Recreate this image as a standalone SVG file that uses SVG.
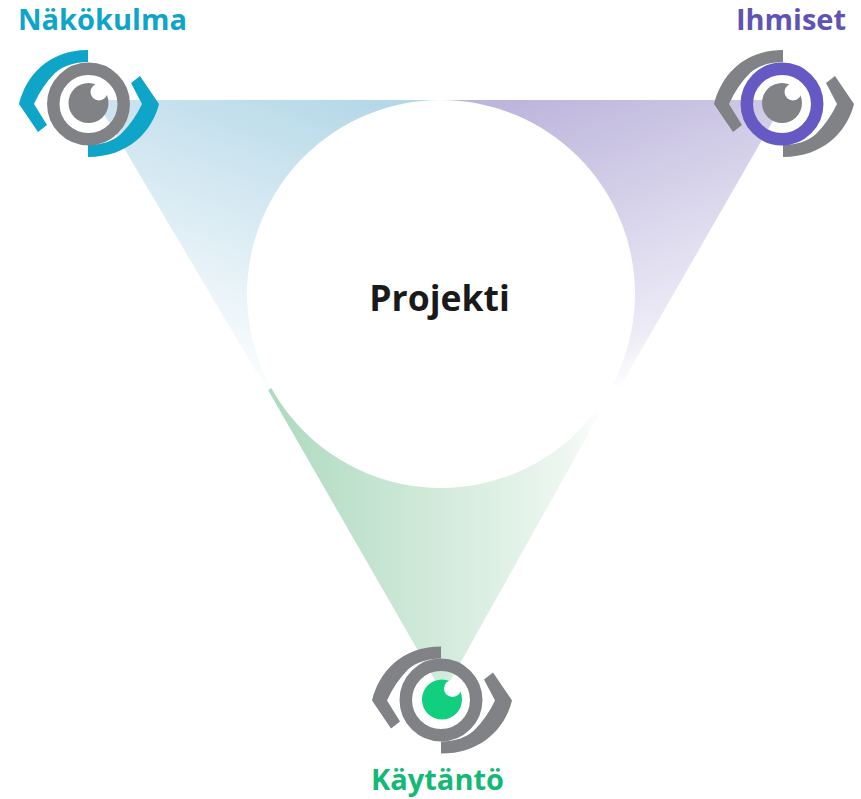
<svg xmlns="http://www.w3.org/2000/svg" width="861" height="799" viewBox="0 0 861 799">
<style>
.t{font-family:"Open Sans","Noto Sans",sans-serif;font-weight:700;text-anchor:middle}
.gr{fill:#808285}
.ring{fill:none;stroke-width:12.500}
.hl{fill:#fff}
</style>
<defs>
<linearGradient id="gb" gradientUnits="userSpaceOnUse" x1="340" y1="90" x2="230" y2="390"><stop offset="0" stop-color="#b5d8e8"/><stop offset="1" stop-color="#ffffff"/></linearGradient>
<linearGradient id="gp" gradientUnits="userSpaceOnUse" x1="540" y1="90" x2="655" y2="395"><stop offset="0" stop-color="#bdb5dc"/><stop offset=".8" stop-color="#ecebf6"/><stop offset=".95" stop-color="#ffffff"/></linearGradient>
<linearGradient id="gg" gradientUnits="userSpaceOnUse" x1="270" y1="500" x2="603" y2="500"><stop offset="0" stop-color="#aedabf"/><stop offset=".9" stop-color="#eef7f1"/><stop offset="1" stop-color="#ffffff"/></linearGradient>
<path id="arcs" d="M0-54V-42C-14-42-25-38-33-31Q-46-18-54 0L-41 21-50 28-69 0C-62-28-40-54 0-54ZM0 53V41C14 41 25 37 33 30Q46 17 54 0L43-21 52-28 71 0C64 28 40 53 0 53Z"/>
</defs>
<g id="beams">
<path d="M95.500 100H441V294L267 390Z" fill="url(#gb)"/>
<path d="M785 100H441V294L620 387Z" fill="url(#gp)"/>
<path d="M443 694 268 390 441 294 600 413Z" fill="url(#gg)"/>
</g>
<g id="projekti">
<circle cx="441" cy="294" r="194" fill="#fff"/>
<text class="t" x="439.500" y="311" font-size="35.500" fill="#1a1a1a">Projekti</text>
</g>
<g id="nakokulma">
<text class="t" x="102.500" y="30" font-size="29" fill="#0fa5c9">Näkökulma</text>
<use href="#arcs" x="88" y="104" fill="#0fa5c9"/>
<circle class="ring" cx="88.500" cy="104" r="35.200" stroke="#808285"/>
<circle cx="88.500" cy="103" r="20" class="gr"/><circle class="hl" cx="99" cy="92" r="8.500"/>
</g>
<g id="ihmiset">
<text class="t" x="791" y="30" font-size="29" fill="#5f54b5">Ihmiset</text>
<use href="#arcs" x="783" y="104" class="gr"/>
<circle class="ring" cx="782" cy="104" r="35.200" stroke="#6659c4"/>
<circle cx="782" cy="103" r="20" class="gr"/><circle class="hl" cx="793" cy="92" r="8.500"/>
</g>
<g id="kaytanto">
<use href="#arcs" x="441" y="700.500" class="gr"/>
<circle class="ring" cx="441" cy="700" r="35.200" stroke="#808285"/>
<circle cx="442" cy="699.500" r="20" fill="#11cf7f"/><circle class="hl" cx="452.500" cy="688.500" r="8.500"/>
<text class="t" x="437.500" y="790" font-size="29" fill="#14b877">Käytäntö</text>
</g>
</svg>
